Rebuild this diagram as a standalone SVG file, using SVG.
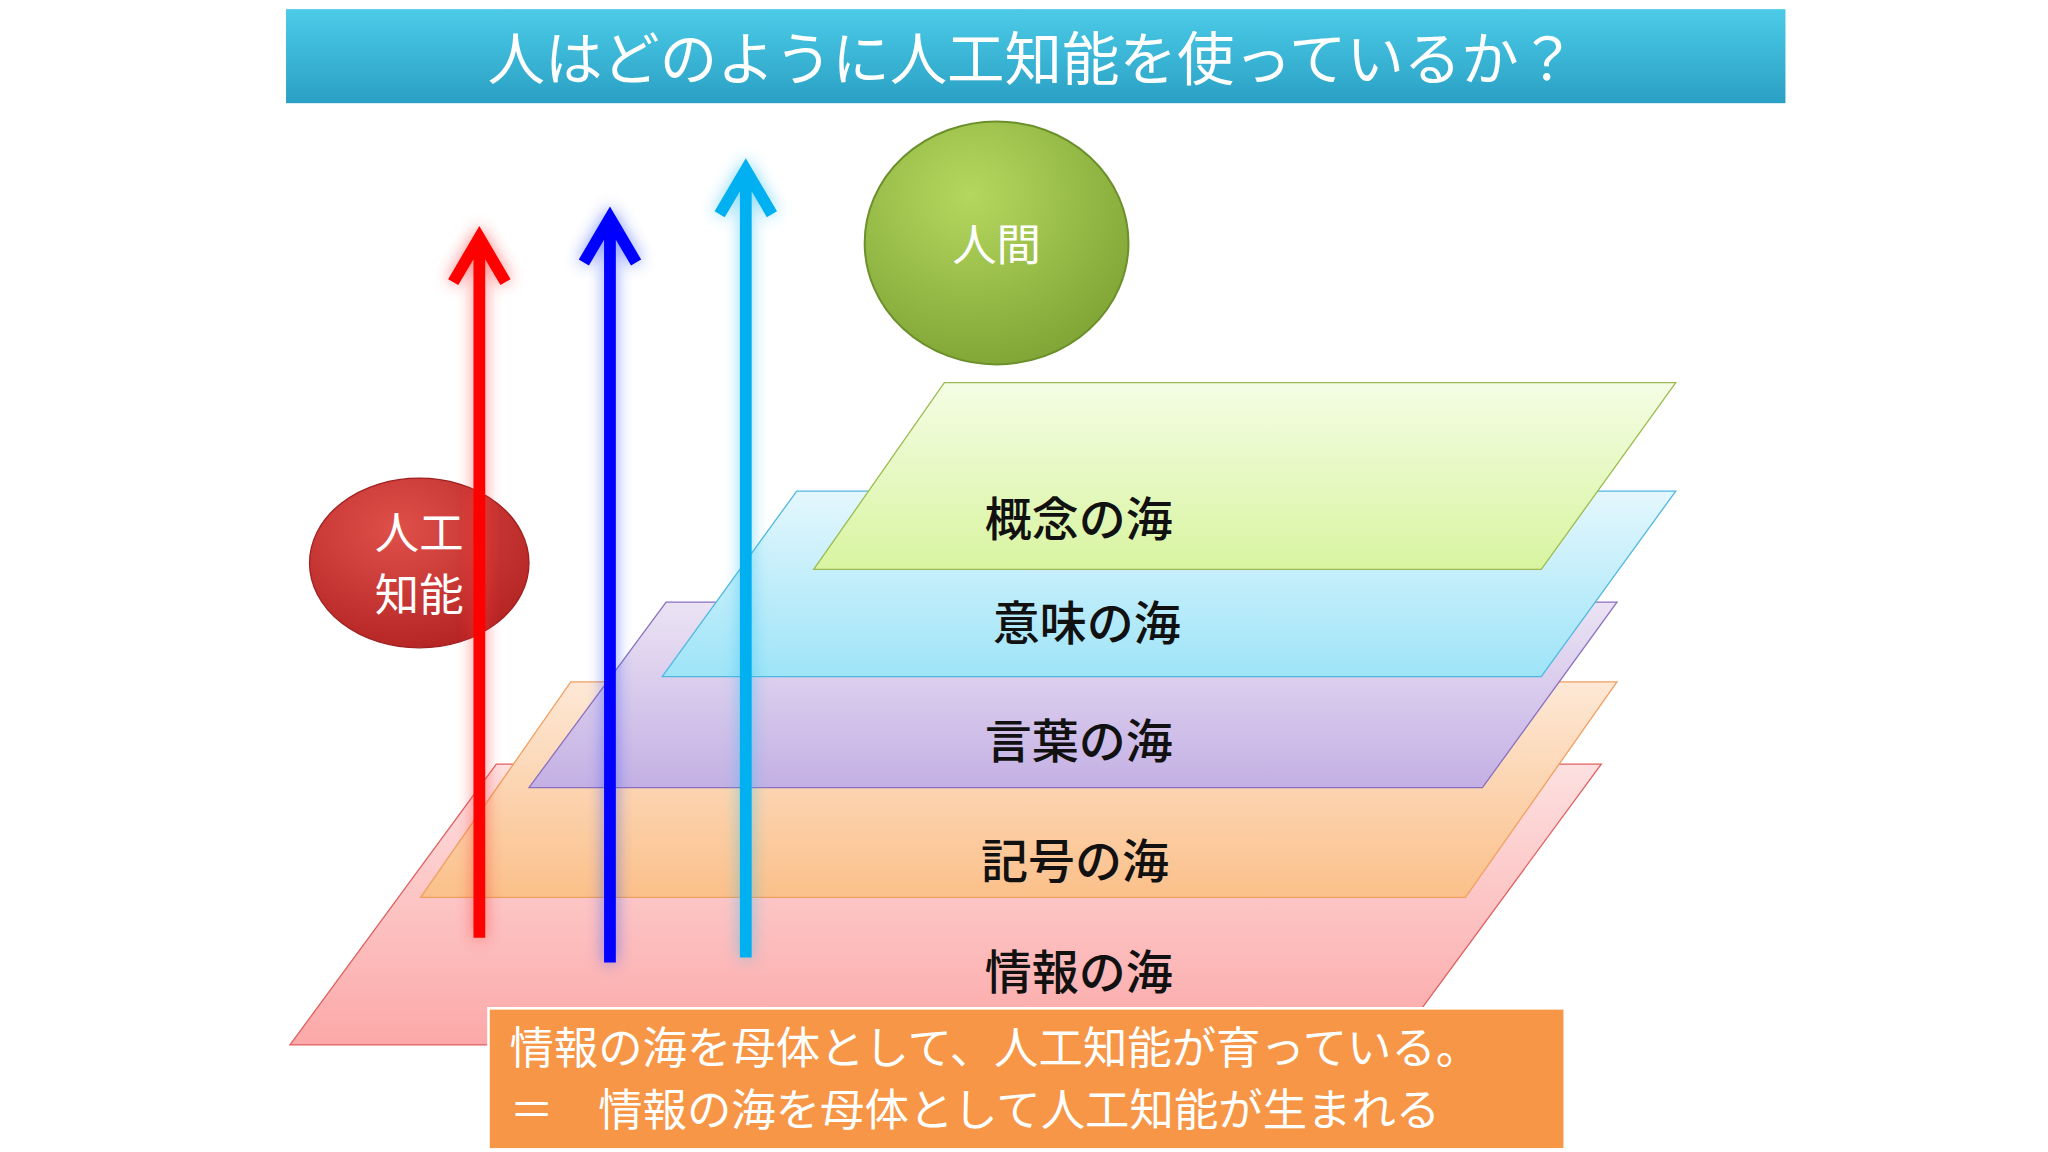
<svg xmlns="http://www.w3.org/2000/svg" width="2048" height="1152" viewBox="0 0 2048 1152">
<style>
.t{font-family:"Noto Sans CJK JP","Liberation Sans",sans-serif}
.w{fill:#fff}
.lab{font-size:36px;fill:#111;font-weight:500;text-anchor:middle}
.arr{stroke-width:9;fill:none;stroke-linecap:butt}
</style>
<defs>
<linearGradient id="tg" x1="0" y1="0" x2="0" y2="1"><stop offset="0" stop-color="#4ccbe8"/><stop offset="1" stop-color="#2aa0c4"/></linearGradient>
<radialGradient id="gg" cx="0.4" cy="0.3" r="0.8"><stop offset="0" stop-color="#b4d85e"/><stop offset="1" stop-color="#7ca032"/></radialGradient>
<radialGradient id="rg" cx="0.4" cy="0.3" r="0.8"><stop offset="0" stop-color="#e0504a"/><stop offset="1" stop-color="#b02020"/></radialGradient>
<linearGradient id="p1" x1="0" y1="0" x2="0" y2="1"><stop offset="0" stop-color="#fde0e0"/><stop offset="1" stop-color="#fca8a8"/></linearGradient>
<linearGradient id="p2" x1="0" y1="0" x2="0" y2="1"><stop offset="0" stop-color="#fde8d6"/><stop offset="1" stop-color="#fbc08a"/></linearGradient>
<linearGradient id="p3" x1="0" y1="0" x2="0" y2="1"><stop offset="0" stop-color="#ebe3f4"/><stop offset="1" stop-color="#c4b0e4"/></linearGradient>
<linearGradient id="p4" x1="0" y1="0" x2="0" y2="1"><stop offset="0" stop-color="#e4f7fd"/><stop offset="1" stop-color="#9ee4f8"/></linearGradient>
<linearGradient id="p5" x1="0" y1="0" x2="0" y2="1"><stop offset="0" stop-color="#f4fde4"/><stop offset="1" stop-color="#d8f4a0"/></linearGradient>
<filter id="glow" x="-3" y="-0.2" width="7" height="1.4"><feGaussianBlur stdDeviation="6"/></filter>
</defs>
<g transform="scale(1.30612)">
<g id="title"><rect x="219" y="7" width="1148" height="72" fill="url(#tg)"/>
<text class="t w" x="790" y="61" font-size="44" text-anchor="middle">人はどのように人工知能を使っているか？</text></g>
<g id="human"><ellipse cx="763" cy="186" rx="101" ry="93" fill="url(#gg)" stroke="#6b8f2a" stroke-width="1.5"/>
<text class="t w" x="763" y="200" font-size="34" text-anchor="middle">人間</text></g>
<g id="sea-info"><polygon points="380,585 1226,585 1068,800 222,800" fill="url(#p1)" stroke="#e06060" stroke-width="1"/><text class="t lab" x="826" y="757">情報の海</text></g>
<g id="sea-symbol"><polygon points="437,522 1238,522 1122,687 322,687" fill="url(#p2)" stroke="#f0a060" stroke-width="1"/><text class="t lab" x="823" y="672">記号の海</text></g>
<g id="sea-word"><polygon points="510,461 1238,461 1135,603 405,603" fill="url(#p3)" stroke="#8a70c0" stroke-width="1"/><text class="t lab" x="826" y="580">言葉の海</text></g>
<g id="sea-meaning"><polygon points="610,376 1283,376 1180,518 507,518" fill="url(#p4)" stroke="#50b8e0" stroke-width="1"/><text class="t lab" x="832" y="490">意味の海</text></g>
<g id="sea-concept"><polygon points="723,293 1283,293 1180,436 623,436" fill="url(#p5)" stroke="#9cbc50" stroke-width="1"/><text class="t lab" x="826" y="410">概念の海</text></g>
<g id="ai"><ellipse cx="321" cy="431" rx="84" ry="65" fill="url(#rg)" stroke="#a02020" stroke-width="1"/>
<text class="t w" x="321" y="420" font-size="34" text-anchor="middle">人工</text>
<text class="t w" x="321" y="468" font-size="34" text-anchor="middle">知能</text></g>
<g id="connectors">
<g filter="url(#glow)" opacity="0.6">
<path class="arr" d="M367,718V182M347,216L367,182L387,216" stroke="#ff3030" stroke-width="18"/>
<path class="arr" d="M467,737V167M447,201L467,167L487,201" stroke="#3050ff" stroke-width="18"/>
<path class="arr" d="M571,733V130M551,164L571,130L591,164" stroke="#30c0f0" stroke-width="18"/>
</g>
<path class="arr" d="M367,718V182M347,216L367,182L387,216" stroke="#ff0000"/>
<path class="arr" d="M467,737V167M447,201L467,167L487,201" stroke="#0000ff"/>
<path class="arr" d="M571,733V130M551,164L571,130L591,164" stroke="#00b0f0"/>
</g>
<g id="note"><rect x="374" y="772" width="824" height="108" fill="#f79646" stroke="#fff" stroke-width="2"/>
<text class="t w" x="390" y="815" font-size="34">情報の海を母体として、人工知能が育っている。</text>
<text class="t w" x="390" y="862" font-size="34">＝　情報の海を母体として人工知能が生まれる</text></g>
</g>
</svg>
